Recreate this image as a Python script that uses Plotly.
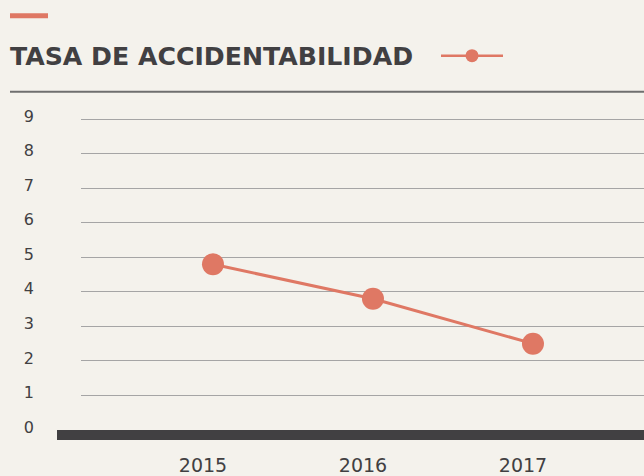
import plotly.graph_objects as go

# Data
years = ["2015", "2016", "2017"]
tasa = [4.8, 3.8, 2.5]
y_ticks = [0, 1, 2, 3, 4, 5, 6, 7, 8, 9]

W, H = 644, 476
ML, MR, MT, MB = 81, 0, 102, 46
PW, PH = W - ML - MR, H - MT - MB

def px2x(px):
    return (px - ML) / PW

def px2y(py):
    return (H - MB - py) / PH

ACCENT = "#df7864"
DARK = "#414042"
BG = "#f4f2ec"

fig = go.Figure()
fig.add_trace(go.Scatter(
    x=years, y=tasa, mode="lines+markers",
    line=dict(color=ACCENT, width=3),
    marker=dict(color=ACCENT, size=22),
    showlegend=False, hoverinfo="x+y",
))

shapes = [
    # thick base bar at zero
    dict(type="rect", xref="paper", yref="paper",
         x0=px2x(57), x1=1, y0=0, y1=px2y(440),
         fillcolor=DARK, line=dict(width=0), layer="above"),
    # accent dash top-left
    dict(type="rect", xref="paper", yref="paper",
         x0=px2x(10), x1=px2x(48), y0=px2y(18.3), y1=px2y(13.3),
         fillcolor=ACCENT, line=dict(width=0)),
    # separator line under title
    dict(type="line", xref="paper", yref="paper",
         x0=px2x(10), x1=1, y0=px2y(91.7), y1=px2y(91.7),
         line=dict(color="#6f6f6f", width=2)),
    # legend icon: line + dot
    dict(type="line", xref="paper", yref="paper",
         x0=px2x(441), x1=px2x(503), y0=px2y(55.7), y1=px2y(55.7),
         line=dict(color=ACCENT, width=2.5)),
    dict(type="circle", xref="paper", yref="paper",
         x0=px2x(465.5), x1=px2x(478.5), y0=px2y(62.2), y1=px2y(49.2),
         fillcolor=ACCENT, line=dict(width=0)),
]

fig.update_layout(
    width=W, height=H,
    margin=dict(l=ML, r=MR, t=MT, b=MB),
    paper_bgcolor=BG, plot_bgcolor=BG,
    shapes=shapes,
    title=dict(
        text="<b>TASA DE ACCIDENTABILIDAD</b>",
        font=dict(family="DejaVu Sans", size=25.2, color=DARK),
        x=10 / W, xanchor="left", xref="container",
        y=1 - 56 / H, yanchor="middle", yref="container",
        automargin=False,
    ),
    xaxis=dict(
        type="category", range=[-0.825, 2.694], automargin=False,
        showgrid=False, zeroline=False, showline=False,
        ticks="", ticklabelstandoff=22, ticklabelshift=-10,
        tickfont=dict(family="DejaVu Sans", size=19, color=DARK),
    ),
    yaxis=dict(
        range=[0, 9.5], tickvals=y_ticks, ticktext=[str(v) for v in y_ticks],
        automargin=False,
        showgrid=True, gridcolor="#a5a5a5", gridwidth=1,
        zeroline=False, showline=False,
        ticks="", ticklabelstandoff=46, ticklabelshift=-3,
        tickfont=dict(family="DejaVu Sans", size=16, color=DARK),
    ),
)

fig.write_html(
    "out.html",
    config={"displayModeBar": False},
    post_script="document.body.style.margin='0';document.body.style.background='%s';" % BG,
)
